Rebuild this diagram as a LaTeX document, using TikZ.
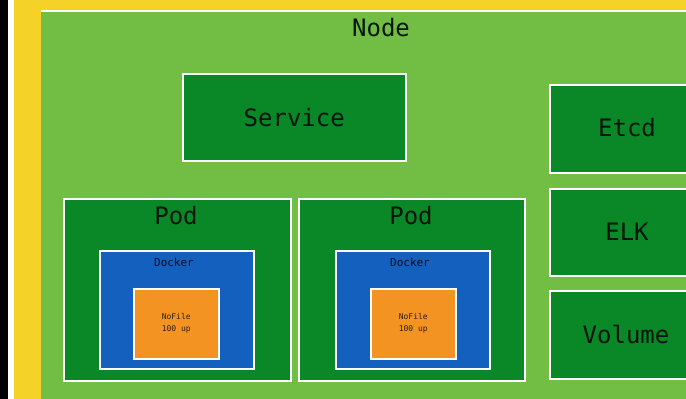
\documentclass[tikz,border=0pt]{standalone}
\usepackage{fontspec}
\setmonofont{DejaVu Sans Mono}
\definecolor{ylw}{RGB}{245,210,40}
\definecolor{lgreen}{RGB}{114,190,68}
\definecolor{dgreen}{RGB}{10,136,40}
\definecolor{dblue}{RGB}{20,96,190}
\definecolor{orng}{RGB}{243,147,34}
\tikzset{
  panel/.style={draw=white, line width=1.5pt, inner sep=0pt, anchor=north west},
  gbox/.style={panel, fill=dgreen},
  bbox/.style={panel, fill=dblue},
  obox/.style={panel, fill=orng},
  big/.style={font=\ttfamily\fontsize{24}{24}\selectfont, text=black!85!dgreen, inner sep=0pt},
  small/.style={font=\ttfamily\fontsize{11}{11}\selectfont, text=black!85!dblue, inner sep=0pt},
  tiny/.style={font=\ttfamily\fontsize{8}{12}\selectfont, text=black!80!orng, inner sep=0pt, align=center}
}
\begin{document}
\begin{tikzpicture}[x=1pt,y=-1pt]
\useasboundingbox (0,0) rectangle (686,399);
\clip (0,0) rectangle (686,399);
% background strips
\fill[black] (0,0) rectangle (8,399);
\fill[white] (8,0) rectangle (14,399);
\fill[ylw] (14,0) rectangle (686,399);
\fill[white] (41,9.5) rectangle (686,12);
\fill[lgreen] (41,11.5) rectangle (686,399);
\node[big] (nodelbl) at (381,28) {Node};
% service
\node[gbox, minimum width=223pt, minimum height=87pt] (service) at (182,73) {};
\node[big] (servicelbl) at (service.center) {Service};
% pods
\node[gbox, minimum width=227pt, minimum height=182pt] (pod1) at (63,198) {};
\node[big] (pod1lbl) at (176,216) {Pod};
\node[gbox, minimum width=226pt, minimum height=182pt] (pod2) at (298,198) {};
\node[big] (pod2lbl) at (411,216) {Pod};
% dockers
\node[bbox, minimum width=154pt, minimum height=118pt] (dock1) at (99,250) {};
\node[small] (dock1lbl) at (174,262) {Docker};
\node[bbox, minimum width=154pt, minimum height=118pt] (dock2) at (335,250) {};
\node[small] (dock2lbl) at (410,262) {Docker};
% containers
\node[obox, minimum width=85pt, minimum height=70pt] (ctr1) at (133,288) {};
\node[tiny] (ctr1lbl) at (ctr1.center) {NoFile\\100 up};
\node[obox, minimum width=85pt, minimum height=70pt] (ctr2) at (370,288) {};
\node[tiny] (ctr2lbl) at (ctr2.center) {NoFile\\100 up};
% right column
\node[gbox, minimum width=160pt, minimum height=88pt] (etcd) at (549,84) {};
\node[big] (etcdlbl) at (627,128) {Etcd};
\node[gbox, minimum width=160pt, minimum height=87pt] (elk) at (549,188) {};
\node[big] (elklbl) at (627,232) {ELK};
\node[gbox, minimum width=160pt, minimum height=88pt] (volume) at (549,290) {};
\node[big] (volumelbl) at (626,334) {Volume};
\end{tikzpicture}
\end{document}
